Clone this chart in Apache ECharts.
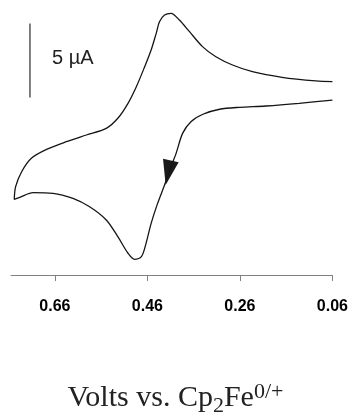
<!DOCTYPE html>
<html>
<head>
<meta charset="utf-8">
<script src="https://cdn.jsdelivr.net/npm/echarts@6/dist/echarts.min.js"></script>
<style>
  html, body { margin: 0; padding: 0; background: #fff; }
  #chart { width: 351px; height: 414px; }
</style>
</head>
<body>
<div id="chart"></div>
<script>
// potential (V vs Cp2Fe0/+) and current (µA)
const volts = [
  0.06, 0.096, 0.169, 0.233, 0.276, 0.312, 0.341, 0.369, 0.391, 0.409,
  0.423, 0.434, 0.441, 0.452, 0.466, 0.484, 0.502, 0.524, 0.549, 0.592,
  0.635, 0.678, 0.711, 0.732, 0.745, 0.748,
  0.736, 0.707, 0.664, 0.621, 0.585, 0.549, 0.524, 0.502, 0.488, 0.473,
  0.463, 0.452, 0.438, 0.423, 0.409, 0.398, 0.384, 0.366, 0.340, 0.304,
  0.261, 0.204, 0.132, 0.06
]
const current = [
  1.06, 1.11, 1.36, 1.74, 2.19, 2.75, 3.43, 4.44, 5.23, 5.68,
  5.57, 5.11, 4.33, 3.20, 2.07, 0.72, -0.40, -1.41, -2.09, -2.54,
  -2.99, -3.51, -4.11, -5.02, -6.03, -6.89,
  -6.75, -6.44, -6.48, -6.82, -7.39, -8.28, -9.41, -10.53, -10.94, -10.76,
  -9.86, -8.51, -7.16, -5.92, -4.68, -3.78, -2.43, -1.64, -1.14, -0.80,
  -0.67, -0.58, -0.40, -0.18
]
const tickVolts = [0.06, 0.26, 0.46, 0.66]
// 5 µA scale bar and scan-direction arrow
const scaleBar = [[0.714, 0], [0.714, 5]]
const arrowPoint = [0.415, -5.09]

const cv = volts.map((v, i) => [v, current[i]])

const chart = echarts.init(document.getElementById('chart'))
chart.setOption({
  animation: false,
  grid: { left: 11, right: 17, top: 8.6, bottom: 139 },
  xAxis: {
    type: 'value',
    min: 0.06,
    max: 0.755,
    inverse: true,
    splitLine: { show: false },
    axisLine: { onZero: false, lineStyle: { color: '#808080', width: 1 } },
    axisTick: { length: 6, lineStyle: { color: '#808080' }, customValues: tickVolts },
    axisLabel: {
      customValues: tickVolts,
      margin: 24,
      color: '#000',
      fontFamily: 'Liberation Sans',
      fontWeight: 'bold',
      fontSize: 16,
      formatter: v => v.toFixed(2)
    }
  },
  yAxis: {
    type: 'value',
    min: -12,
    max: 6,
    show: false
  },
  series: [
    {
      type: 'line',
      data: cv,
      symbol: 'none',
      smooth: 0.3,
      lineStyle: { color: '#151515', width: 1.3 }
    },
    {
      type: 'line',
      data: scaleBar,
      symbol: 'none',
      lineStyle: { color: '#555', width: 1.5 }
    },
    {
      type: 'scatter',
      data: [arrowPoint],
      symbol: 'triangle',
      symbolSize: [16, 25],
      symbolRotate: 168,
      itemStyle: { color: '#1a1a1a', opacity: 1 }
    }
  ],
  graphic: [
    {
      type: 'text',
      left: 52,
      top: 48,
      style: {
        text: '5 µA',
        fill: '#222',
        font: '20px "Liberation Sans"'
      }
    },
    {
      type: 'text',
      left: 'center',
      top: 380,
      style: {
        text: '{a|Volts vs. Cp}{b|2}{a|Fe}{c|0/+}',
        fill: '#222',
        rich: {
          a: { fontFamily: 'Liberation Serif', fontSize: 30, lineHeight: 36, verticalAlign: 'middle' },
          b: { fontFamily: 'Liberation Serif', fontSize: 22, lineHeight: 36, padding: [15, 0, 0, 0] },
          c: { fontFamily: 'Liberation Serif', fontSize: 22, lineHeight: 36, padding: [0, 0, 13, 0] }
        }
      }
    }
  ]
})
</script>
</body>
</html>
